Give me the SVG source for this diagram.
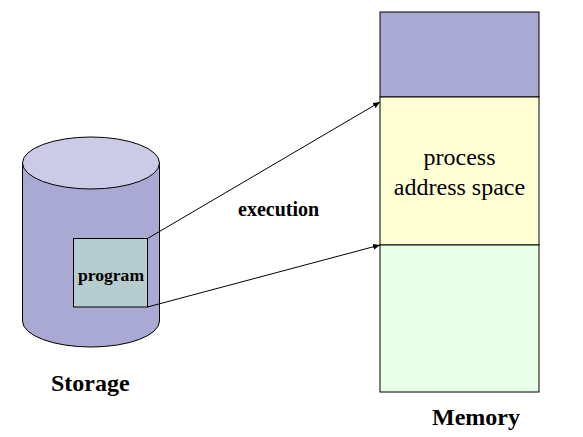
<svg xmlns="http://www.w3.org/2000/svg" width="583" height="437" viewBox="0 0 583 437">
<style>
.s{stroke:#000;stroke-width:1}
.b{font-family:"Liberation Serif",serif;font-weight:bold;fill:#000}
.r{font-family:"Liberation Serif",serif;fill:#000;font-size:24px;text-anchor:middle}
</style>
<defs><marker id="a" markerWidth="8" markerHeight="6" refX="7" refY="3" orient="auto" markerUnits="userSpaceOnUse"><path d="M0 0L7 3L0 6z" fill="#000"/></marker></defs>
<rect width="583" height="437" fill="#fff"/>
<g id="storage">
<path class="s" d="M22.500 163V321A68.500 26 0 0 0 159.500 321V163z" fill="#a9a9d3"/>
<ellipse class="s" cx="91" cy="163" rx="68.500" ry="26" fill="#cbcbe7"/>
<text class="b" x="51" y="391" font-size="24">Storage</text>
</g>
<g id="program"><rect class="s" x="73.500" y="238.500" width="74" height="68.500" fill="#b7cccf"/><text class="b" x="111" y="281" font-size="17.600" text-anchor="middle">program</text></g>
<g id="memory-top"><rect class="s" x="380" y="12" width="159" height="85" fill="#a9a9d3"/></g>
<g id="memory-process"><rect class="s" x="380" y="97" width="159" height="148" fill="#ffffd4"/><text class="r" x="459.500" y="165">process</text><text class="r" x="459.500" y="195">address space</text></g>
<g id="memory-bottom"><rect class="s" x="380" y="245" width="159" height="147" fill="#e8ffe8"/></g>
<text class="b" x="432" y="425" font-size="24">Memory</text>
<g id="connectors" fill="none"><line class="s" x1="147.500" y1="238.500" x2="380" y2="102" marker-end="url(#a)"/><line class="s" x1="147.500" y1="307" x2="380" y2="245" marker-end="url(#a)"/></g>
<text class="b" x="238" y="216" font-size="20">execution</text>
</svg>
